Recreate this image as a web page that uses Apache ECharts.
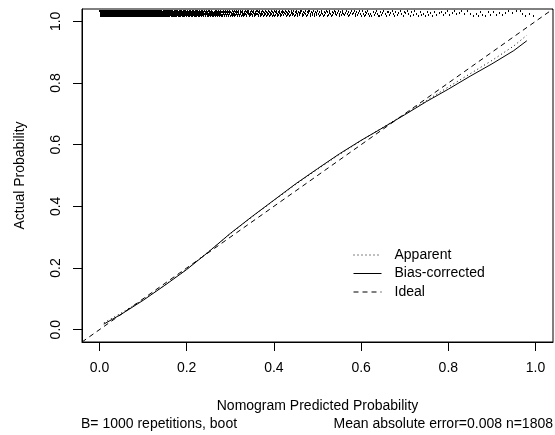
<!DOCTYPE html>
<html><head><meta charset="utf-8">
<script src="https://cdn.jsdelivr.net/npm/echarts@6/dist/echarts.min.js"></script>
<style>html,body{margin:0;padding:0;background:#fff}#c{width:555px;height:435px}</style>
</head><body><div id="c"></div>
<script>
const xTicks = [0, 0.2, 0.4, 0.6, 0.8, 1.0];
const yTicks = [0, 0.2, 0.4, 0.6, 0.8, 1.0];
const predX = [0.01, 0.05, 0.1, 0.15, 0.2, 0.25, 0.3, 0.35, 0.4, 0.45, 0.5, 0.55, 0.6, 0.65, 0.7, 0.75, 0.8, 0.85, 0.9, 0.95, 0.98];
const apparentY = [0.022, 0.054, 0.097, 0.145, 0.196, 0.253, 0.311, 0.366, 0.419, 0.471, 0.52, 0.568, 0.613, 0.656, 0.699, 0.743, 0.787, 0.83, 0.873, 0.92, 0.955];
const biasCorrectedY = [0.018, 0.05, 0.095, 0.144, 0.195, 0.252, 0.312, 0.367, 0.42, 0.473, 0.522, 0.57, 0.614, 0.655, 0.697, 0.74, 0.78, 0.822, 0.862, 0.905, 0.937];
const idealX = [-0.04, 1.04];
const idealY = [-0.04, 1.04];
const rugBinStart = [0,0.02,0.04,0.06,0.08,0.1,0.12,0.14,0.16,0.18,0.2,0.22,0.24,0.26,0.28,0.3,0.32,0.34,0.36,0.38,0.4,0.42,0.44,0.46,0.48,0.5,0.52,0.54,0.56,0.58,0.6,0.62,0.64,0.66,0.68,0.7,0.72,0.74,0.76,0.78,0.8,0.82,0.84,0.86,0.88,0.9,0.92,0.94,0.96,0.98];
const rugCounts = [190,200,150,120,90,70,58,50,44,40,36,33,30,28,26,24,22,21,20,18,17,16,15,14,13,12,12,11,10,10,9,8,8,7,6,6,5,5,4,4,4,3,3,4,3,3,3,2,3,2];
const rugBinWidth = 0.02;

const font = 'Liberation Sans, Arial, sans-serif';
const chart = echarts.init(document.getElementById('c'));

function renderRug(params, api) {
  const x0 = api.value(0), n = api.value(1);
  const pattern = [0, 3, 5, 1, 4, 2];
  const children = [];
  for (let i = 0; i < n; i++) {
    const x = x0 + (i + 0.5) * rugBinWidth / n;
    const p = api.coord([x, 1.04]);
    const px = Math.round(p[0]) + 0.5;
    const off = 1 + pattern[(i + params.dataIndex) % 6];
    children.push({type: 'line', shape: {x1: px, y1: p[1] + off, x2: px, y2: p[1] + off + 2}, style: {stroke: '#000', lineWidth: 1}});
  }
  return {type: 'group', children: children};
}

chart.setOption({
  animation: false,
  textStyle: {fontFamily: font, color: '#000'},
  title: [
    {text: 'B= 1000 repetitions, boot', left: 81, top: 417, padding: 0,
     textStyle: {fontSize: 14, fontWeight: 'normal', color: '#000', fontFamily: font}},
    {text: 'Mean absolute error=0.008 n=1808', right: 2, top: 417, padding: 0,
     textStyle: {fontSize: 14, fontWeight: 'normal', color: '#000', fontFamily: font}}
  ],
  grid: {left: 82, right: 2, top: 9, bottom: 93, show: true, borderColor: '#000', borderWidth: 1, containLabel: false},
  legend: {
    data: ['Apparent', 'Bias-corrected', 'Ideal'],
    orient: 'vertical', left: 348, top: 243, itemWidth: 28, itemHeight: 14, itemGap: 4.5,
    itemStyle: {opacity: 0},
    lineStyle: {width: 1},
    textStyle: {fontSize: 14, color: '#000', fontFamily: font, padding: [0, 0, 0, 8], lineHeight: 14}
  },
  xAxis: {
    type: 'value', min: -0.04, max: 1.04,
    name: 'Nomogram Predicted Probability', nameLocation: 'middle', nameGap: 57,
    nameTextStyle: {fontSize: 14, color: '#000', fontFamily: font},
    axisLine: {show: true, onZero: false, lineStyle: {color: '#000'}},
    axisTick: {show: true, length: 9, customValues: xTicks, lineStyle: {color: '#000'}},
    axisLabel: {customValues: xTicks, formatter: v => v.toFixed(1), fontSize: 14, color: '#000', margin: 19, fontFamily: font},
    splitLine: {show: false}
  },
  yAxis: {
    type: 'value', min: -0.04, max: 1.04,
    name: 'Actual Probability', nameLocation: 'middle', nameGap: 55, nameRotate: 90,
    nameTextStyle: {fontSize: 14, color: '#000', fontFamily: font},
    axisLine: {show: true, onZero: false, lineStyle: {color: '#000'}},
    axisTick: {show: true, length: 9, customValues: yTicks, lineStyle: {color: '#000'}},
    axisLabel: {customValues: yTicks, formatter: v => v.toFixed(1), rotate: 90, fontSize: 14, color: '#000', margin: 19, fontFamily: font},
    splitLine: {show: false}
  },
  series: [
    {name: 'Apparent', type: 'line', symbol: 'none', data: predX.map((x, i) => [x, apparentY[i]]),
     lineStyle: {color: '#000', width: 1, type: [1, 3]}, itemStyle: {color: '#000'}},
    {name: 'Bias-corrected', type: 'line', symbol: 'none', data: predX.map((x, i) => [x, biasCorrectedY[i]]),
     lineStyle: {color: '#000', width: 1, type: 'solid'}, itemStyle: {color: '#000'}},
    {name: 'Ideal', type: 'line', symbol: 'none', data: idealX.map((x, i) => [x, idealY[i]]),
     lineStyle: {color: '#000', width: 1, type: [5, 4]}, itemStyle: {color: '#000'}},
    {type: 'custom', renderItem: renderRug, data: rugBinStart.map((s, i) => [s, rugCounts[i]]), silent: true}
  ]
});
</script></body></html>
